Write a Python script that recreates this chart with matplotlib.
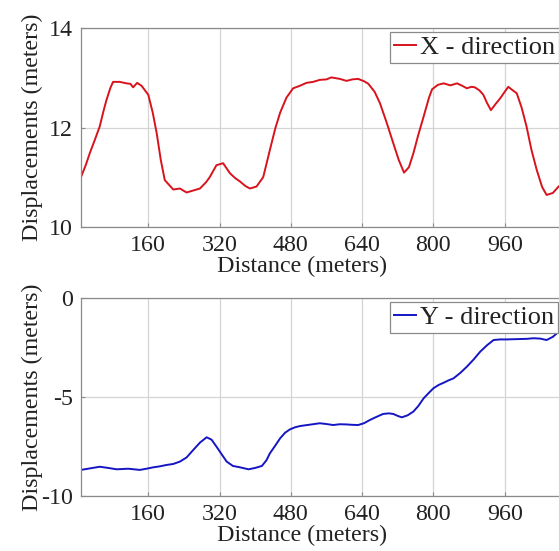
import matplotlib
matplotlib.use("Agg")
import matplotlib.pyplot as plt

# ---- data ----
x_top = [9, 20, 29, 40, 51, 60, 66, 75, 81, 96, 111, 120, 126, 135, 145, 160,
         170, 179, 188, 197, 206, 216, 231, 246, 261, 276, 290, 298, 313, 328,
         343, 355, 366, 378, 388, 403, 418, 433, 445, 456, 470, 485, 500, 515,
         530, 545, 560, 571, 590, 605, 618, 631, 645, 654, 668, 680, 695, 710,
         722, 734, 745, 755, 766, 778, 790, 797, 810, 823, 838, 853, 865, 875,
         885, 893, 903, 912, 920, 929, 940, 950, 960, 968, 978, 987, 998, 1009,
         1020, 1032, 1044, 1054, 1068, 1081, 1100]
disp_x = [11.00, 11.25, 11.49, 11.75, 12.02, 12.35, 12.55, 12.80, 12.92, 12.92,
          12.89, 12.88, 12.81, 12.90, 12.84, 12.66, 12.30, 11.88, 11.35, 10.94,
          10.85, 10.75, 10.77, 10.69, 10.73, 10.77, 10.90, 11.00, 11.24, 11.28,
          11.08, 10.98, 10.91, 10.82, 10.77, 10.81, 11.00, 11.55, 11.98, 12.30,
          12.60, 12.79, 12.84, 12.90, 12.92, 12.96, 12.97, 13.01, 12.98, 12.94,
          12.97, 12.98, 12.93, 12.88, 12.72, 12.49, 12.10, 11.68, 11.35, 11.09,
          11.20, 11.48, 11.85, 12.22, 12.60, 12.77, 12.86, 12.89, 12.85, 12.89,
          12.84, 12.79, 12.82, 12.81, 12.75, 12.66, 12.50, 12.35, 12.48, 12.59,
          12.72, 12.82, 12.75, 12.69, 12.40, 12.02, 11.55, 11.14, 10.80, 10.64,
          10.68, 10.81, 10.95]

x_bot = [9, 30, 51, 70, 89, 115, 141, 156, 171, 186, 201, 216, 231, 246, 261,
         276, 291, 302, 313, 325, 336, 350, 366, 385, 400, 415, 425, 433, 445,
         456, 467, 478, 490, 501, 520, 545, 560, 575, 590, 605, 618, 631, 644,
         657, 672, 687, 700, 710, 720, 729, 742, 755, 766, 778, 789, 800, 812,
         823, 834, 845, 860, 875, 890, 905, 920, 935, 950, 965, 980, 995, 1010,
         1025, 1040, 1054, 1068, 1081, 1100]
disp_y = [-8.68, -8.60, -8.52, -8.58, -8.65, -8.62, -8.68, -8.62, -8.55, -8.50,
          -8.43, -8.38, -8.26, -8.05, -7.67, -7.30, -7.03, -7.15, -7.50, -7.90,
          -8.26, -8.48, -8.55, -8.65, -8.58, -8.48, -8.20, -7.84, -7.45, -7.08,
          -6.80, -6.63, -6.52, -6.46, -6.40, -6.32, -6.36, -6.41, -6.37, -6.38,
          -6.40, -6.41, -6.32, -6.16, -6.00, -5.85, -5.82, -5.85, -5.95, -6.02,
          -5.92, -5.73, -5.45, -5.06, -4.80, -4.55, -4.38, -4.27, -4.15, -4.05,
          -3.78, -3.46, -3.10, -2.70, -2.38, -2.11, -2.08, -2.08, -2.07, -2.06,
          -2.05, -2.02, -2.04, -2.11, -1.95, -1.69, -1.40]

x_ticks = [160, 320, 480, 640, 800, 960]
y_ticks_top = [10, 12, 14]
y_ticks_bot = [-10, -5, 0]

W, H = 559, 551
plt.rcParams['font.family'] = ['Liberation Serif', 'DejaVu Serif']
plt.rcParams['axes.unicode_minus'] = False
FS = 17.3
LFS = 19.0

fig = plt.figure(figsize=(W / 100, H / 100), dpi=100)

ax_left = 81 / W
ax_w = 495 / W
top_ax = fig.add_axes([ax_left, 1 - 226.7 / H, ax_w, 198.4 / H])
bot_ax = fig.add_axes([ax_left, 1 - 496 / H, ax_w, 197.7 / H])

def style(ax, yticks, label_x_px, label_y_px, ax_h_px):
    ax.set_xlim(9, 1120)
    ax.set_xticks(x_ticks)
    ax.set_yticks(yticks)
    ax.set_ylim(yticks[0], yticks[-1])
    ax.grid(True, color='#d4d4d4', linewidth=0.9, linestyle='-')
    ax.set_axisbelow(True)
    for s in ax.spines.values():
        s.set_color('#8a8a8a')
        s.set_linewidth(0.9)
    ax.tick_params(direction='in', length=3, width=0.8, color='#8a8a8a',
                   labelsize=FS, pad=6, labelcolor='#222222')
    ax.set_xlabel('Distance (meters)', fontsize=FS, color='#222222')
    ax.set_ylabel('Displacements (meters)', fontsize=FS, color='#222222')
    ax.xaxis.set_label_coords((label_x_px - 81) / 495, -(label_y_px) / ax_h_px)
    ax.yaxis.set_label_coords((43 - 81) / 495, 0.5)

top_ax.plot(x_top, disp_x, color='#d8131c', linewidth=1.4, label='X - direction')
bot_ax.plot(x_bot, disp_y, color='#1515c4', linewidth=1.4, label='Y - direction')
style(top_ax, y_ticks_top, 302, 29, 198.4)
style(bot_ax, y_ticks_bot, 302, 29, 197.7)

for ax, top_px in ((top_ax, 32), (bot_ax, 302)):
    leg = ax.legend(loc='upper left', bbox_to_anchor=(390 / W, 1 - top_px / H),
                    bbox_transform=fig.transFigure, borderaxespad=0,
                    fontsize=LFS, handlelength=0.85, handletextpad=0.12,
                    borderpad=0.15, fancybox=False, framealpha=1)
    leg.get_frame().set_edgecolor('#8a8a8a')
    leg.get_frame().set_linewidth(0.9)
    for t in leg.get_texts():
        t.set_color('#222222')

fig.savefig('out.png', dpi=100)
